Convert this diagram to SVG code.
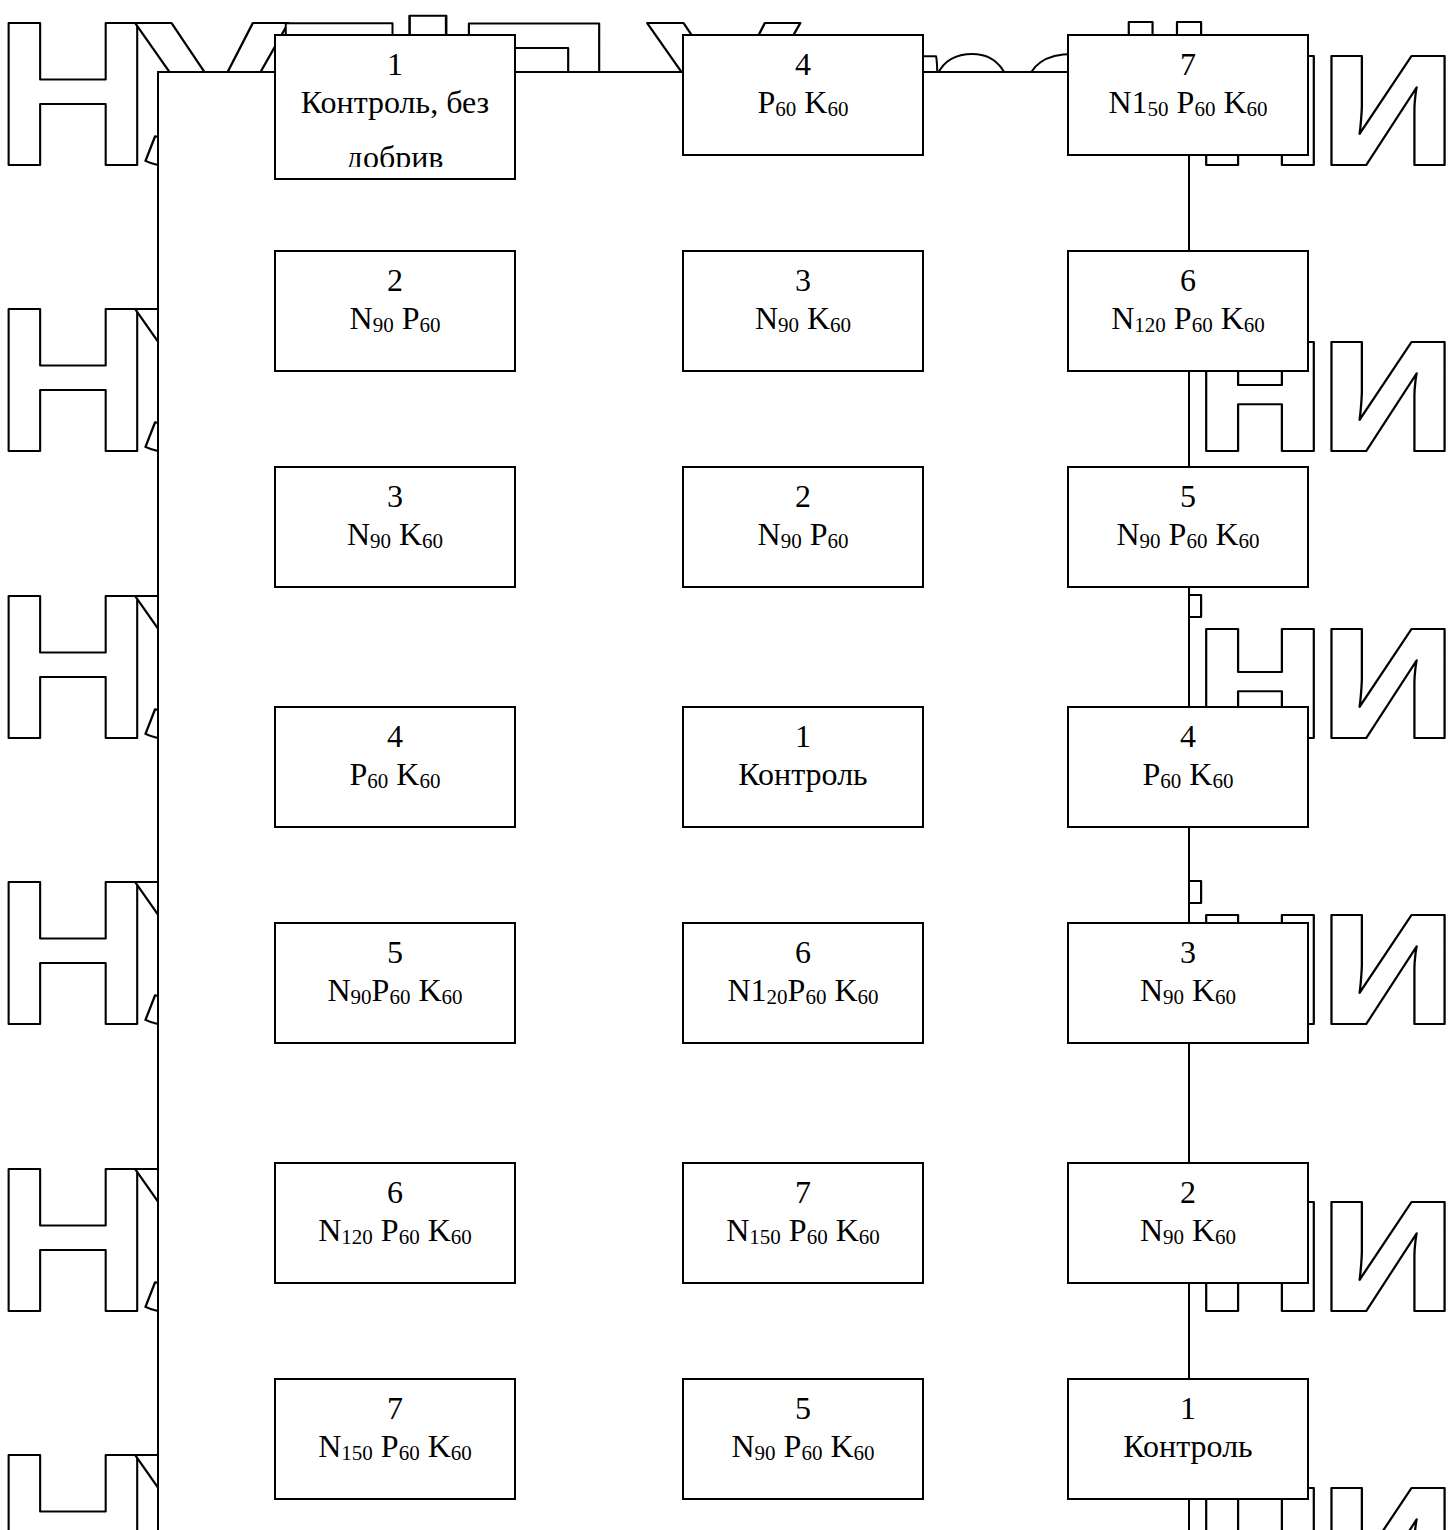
<svg xmlns="http://www.w3.org/2000/svg" width="1456" height="1530" viewBox="0 0 1456 1530">
<style>
.wm{font-family:"Liberation Sans","Noto Sans",sans-serif;font-weight:bold;font-size:206px;fill:#fff;stroke:#000;stroke-width:2;stroke-linejoin:round}
.box{fill:#fff;stroke:#000;stroke-width:2}
.frame{fill:#fff;stroke:#000;stroke-width:2}
.t{font-family:"Liberation Serif","Times New Roman",serif;font-size:32px;fill:#000;text-anchor:middle}
.s{font-size:21px}
</style>
<defs>
<clipPath id="clip1"><rect x="275" y="35" width="240" height="132"/></clipPath>
</defs>
<rect width="1456" height="1530" fill="#fff"/>
<g id="watermark">
<g id="wm-row1">
<text class="wm" x="-6" y="165" textLength="158" lengthAdjust="spacingAndGlyphs">Н</text>
<text class="wm" x="135" y="165" textLength="151" lengthAdjust="spacingAndGlyphs">У</text>
<text class="wm" x="272" y="165">Б</text>
<text class="wm" x="391" y="165" textLength="74" lengthAdjust="spacingAndGlyphs">і</text>
<text class="wm" x="454" y="165" textLength="160" lengthAdjust="spacingAndGlyphs">П</text>
<text class="wm" x="647" y="165" textLength="151" lengthAdjust="spacingAndGlyphs">У</text>
<text class="wm" x="795" y="165">к</text>
<text class="wm" x="895" y="165">р</text>
<text class="wm" x="1015" y="165">а</text>
<text class="wm" x="1133" y="165" textLength="64" lengthAdjust="spacingAndGlyphs">ї</text>
<text class="wm" x="1190" y="165" textLength="140" lengthAdjust="spacingAndGlyphs">н</text>
<text class="wm" x="1315" y="165" textLength="146" lengthAdjust="spacingAndGlyphs">и</text>
</g>
<g id="wm-row2">
<text class="wm" x="-6" y="451" textLength="158" lengthAdjust="spacingAndGlyphs">Н</text>
<text class="wm" x="135" y="451" textLength="151" lengthAdjust="spacingAndGlyphs">У</text>
<text class="wm" x="1133" y="451" textLength="64" lengthAdjust="spacingAndGlyphs">ї</text>
<text class="wm" x="1190" y="451" textLength="140" lengthAdjust="spacingAndGlyphs">н</text>
<text class="wm" x="1315" y="451" textLength="146" lengthAdjust="spacingAndGlyphs">и</text>
</g>
<g id="wm-row3">
<text class="wm" x="-6" y="738" textLength="158" lengthAdjust="spacingAndGlyphs">Н</text>
<text class="wm" x="135" y="738" textLength="151" lengthAdjust="spacingAndGlyphs">У</text>
<text class="wm" x="1133" y="738" textLength="64" lengthAdjust="spacingAndGlyphs">ї</text>
<text class="wm" x="1190" y="738" textLength="140" lengthAdjust="spacingAndGlyphs">н</text>
<text class="wm" x="1315" y="738" textLength="146" lengthAdjust="spacingAndGlyphs">и</text>
</g>
<g id="wm-row4">
<text class="wm" x="-6" y="1024" textLength="158" lengthAdjust="spacingAndGlyphs">Н</text>
<text class="wm" x="135" y="1024" textLength="151" lengthAdjust="spacingAndGlyphs">У</text>
<text class="wm" x="1133" y="1024" textLength="64" lengthAdjust="spacingAndGlyphs">ї</text>
<text class="wm" x="1190" y="1024" textLength="140" lengthAdjust="spacingAndGlyphs">н</text>
<text class="wm" x="1315" y="1024" textLength="146" lengthAdjust="spacingAndGlyphs">и</text>
</g>
<g id="wm-row5">
<text class="wm" x="-6" y="1311" textLength="158" lengthAdjust="spacingAndGlyphs">Н</text>
<text class="wm" x="135" y="1311" textLength="151" lengthAdjust="spacingAndGlyphs">У</text>
<text class="wm" x="1133" y="1311" textLength="64" lengthAdjust="spacingAndGlyphs">ї</text>
<text class="wm" x="1190" y="1311" textLength="140" lengthAdjust="spacingAndGlyphs">н</text>
<text class="wm" x="1315" y="1311" textLength="146" lengthAdjust="spacingAndGlyphs">и</text>
</g>
<g id="wm-row6">
<text class="wm" x="-6" y="1597" textLength="158" lengthAdjust="spacingAndGlyphs">Н</text>
<text class="wm" x="135" y="1597" textLength="151" lengthAdjust="spacingAndGlyphs">У</text>
<text class="wm" x="1133" y="1597" textLength="64" lengthAdjust="spacingAndGlyphs">ї</text>
<text class="wm" x="1190" y="1597" textLength="140" lengthAdjust="spacingAndGlyphs">н</text>
<text class="wm" x="1315" y="1597" textLength="146" lengthAdjust="spacingAndGlyphs">и</text>
</g>
</g>
<g id="connectors">
<path class="frame" d="M158,1540 V72 H1189 V1540"/>
</g>
<g id="n-l1"><rect class="box" x="275" y="35" width="240" height="144"/>
<g clip-path="url(#clip1)"><text class="t" x="395" y="75">1</text><text class="t" x="395" y="113">Контроль, без</text><text class="t" x="395" y="168">добрив</text></g></g>
<g id="n-l2"><rect class="box" x="275" y="251" width="240" height="120"/><text class="t" x="395" y="291">2</text><text class="t" x="395" y="329">N<tspan class="s" dy="3">90</tspan><tspan dy="-3"> P</tspan><tspan class="s" dy="3">60</tspan></text></g>
<g id="n-l3"><rect class="box" x="275" y="467" width="240" height="120"/><text class="t" x="395" y="507">3</text><text class="t" x="395" y="545">N<tspan class="s" dy="3">90</tspan><tspan dy="-3"> K</tspan><tspan class="s" dy="3">60</tspan></text></g>
<g id="n-l4"><rect class="box" x="275" y="707" width="240" height="120"/><text class="t" x="395" y="747">4</text><text class="t" x="395" y="785">P<tspan class="s" dy="3">60</tspan><tspan dy="-3"> K</tspan><tspan class="s" dy="3">60</tspan></text></g>
<g id="n-l5"><rect class="box" x="275" y="923" width="240" height="120"/><text class="t" x="395" y="963">5</text><text class="t" x="395" y="1001">N<tspan class="s" dy="3">90</tspan><tspan dy="-3">P</tspan><tspan class="s" dy="3">60</tspan><tspan dy="-3"> K</tspan><tspan class="s" dy="3">60</tspan></text></g>
<g id="n-l6"><rect class="box" x="275" y="1163" width="240" height="120"/><text class="t" x="395" y="1203">6</text><text class="t" x="395" y="1241">N<tspan class="s" dy="3">120</tspan><tspan dy="-3"> P</tspan><tspan class="s" dy="3">60</tspan><tspan dy="-3"> K</tspan><tspan class="s" dy="3">60</tspan></text></g>
<g id="n-l7"><rect class="box" x="275" y="1379" width="240" height="120"/><text class="t" x="395" y="1419">7</text><text class="t" x="395" y="1457">N<tspan class="s" dy="3">150</tspan><tspan dy="-3"> P</tspan><tspan class="s" dy="3">60</tspan><tspan dy="-3"> K</tspan><tspan class="s" dy="3">60</tspan></text></g>
<g id="n-m1"><rect class="box" x="683" y="35" width="240" height="120"/><text class="t" x="803" y="75">4</text><text class="t" x="803" y="113">P<tspan class="s" dy="3">60</tspan><tspan dy="-3"> K</tspan><tspan class="s" dy="3">60</tspan></text></g>
<g id="n-m2"><rect class="box" x="683" y="251" width="240" height="120"/><text class="t" x="803" y="291">3</text><text class="t" x="803" y="329">N<tspan class="s" dy="3">90</tspan><tspan dy="-3"> K</tspan><tspan class="s" dy="3">60</tspan></text></g>
<g id="n-m3"><rect class="box" x="683" y="467" width="240" height="120"/><text class="t" x="803" y="507">2</text><text class="t" x="803" y="545">N<tspan class="s" dy="3">90</tspan><tspan dy="-3"> P</tspan><tspan class="s" dy="3">60</tspan></text></g>
<g id="n-m4"><rect class="box" x="683" y="707" width="240" height="120"/><text class="t" x="803" y="747">1</text><text class="t" x="803" y="785">Контроль</text></g>
<g id="n-m5"><rect class="box" x="683" y="923" width="240" height="120"/><text class="t" x="803" y="963">6</text><text class="t" x="803" y="1001">N1<tspan class="s" dy="3">20</tspan><tspan dy="-3">P</tspan><tspan class="s" dy="3">60</tspan><tspan dy="-3"> K</tspan><tspan class="s" dy="3">60</tspan></text></g>
<g id="n-m6"><rect class="box" x="683" y="1163" width="240" height="120"/><text class="t" x="803" y="1203">7</text><text class="t" x="803" y="1241">N<tspan class="s" dy="3">150</tspan><tspan dy="-3"> P</tspan><tspan class="s" dy="3">60</tspan><tspan dy="-3"> K</tspan><tspan class="s" dy="3">60</tspan></text></g>
<g id="n-m7"><rect class="box" x="683" y="1379" width="240" height="120"/><text class="t" x="803" y="1419">5</text><text class="t" x="803" y="1457">N<tspan class="s" dy="3">90</tspan><tspan dy="-3"> P</tspan><tspan class="s" dy="3">60</tspan><tspan dy="-3"> K</tspan><tspan class="s" dy="3">60</tspan></text></g>
<g id="n-r1"><rect class="box" x="1068" y="35" width="240" height="120"/><text class="t" x="1188" y="75">7</text><text class="t" x="1188" y="113">N1<tspan class="s" dy="3">50</tspan><tspan dy="-3"> P</tspan><tspan class="s" dy="3">60</tspan><tspan dy="-3"> K</tspan><tspan class="s" dy="3">60</tspan></text></g>
<g id="n-r2"><rect class="box" x="1068" y="251" width="240" height="120"/><text class="t" x="1188" y="291">6</text><text class="t" x="1188" y="329">N<tspan class="s" dy="3">120</tspan><tspan dy="-3"> P</tspan><tspan class="s" dy="3">60</tspan><tspan dy="-3"> K</tspan><tspan class="s" dy="3">60</tspan></text></g>
<g id="n-r3"><rect class="box" x="1068" y="467" width="240" height="120"/><text class="t" x="1188" y="507">5</text><text class="t" x="1188" y="545">N<tspan class="s" dy="3">90</tspan><tspan dy="-3"> P</tspan><tspan class="s" dy="3">60</tspan><tspan dy="-3"> K</tspan><tspan class="s" dy="3">60</tspan></text></g>
<g id="n-r4"><rect class="box" x="1068" y="707" width="240" height="120"/><text class="t" x="1188" y="747">4</text><text class="t" x="1188" y="785">P<tspan class="s" dy="3">60</tspan><tspan dy="-3"> K</tspan><tspan class="s" dy="3">60</tspan></text></g>
<g id="n-r5"><rect class="box" x="1068" y="923" width="240" height="120"/><text class="t" x="1188" y="963">3</text><text class="t" x="1188" y="1001">N<tspan class="s" dy="3">90</tspan><tspan dy="-3"> K</tspan><tspan class="s" dy="3">60</tspan></text></g>
<g id="n-r6"><rect class="box" x="1068" y="1163" width="240" height="120"/><text class="t" x="1188" y="1203">2</text><text class="t" x="1188" y="1241">N<tspan class="s" dy="3">90</tspan><tspan dy="-3"> K</tspan><tspan class="s" dy="3">60</tspan></text></g>
<g id="n-r7"><rect class="box" x="1068" y="1379" width="240" height="120"/><text class="t" x="1188" y="1419">1</text><text class="t" x="1188" y="1457">Контроль</text></g>
</svg>
